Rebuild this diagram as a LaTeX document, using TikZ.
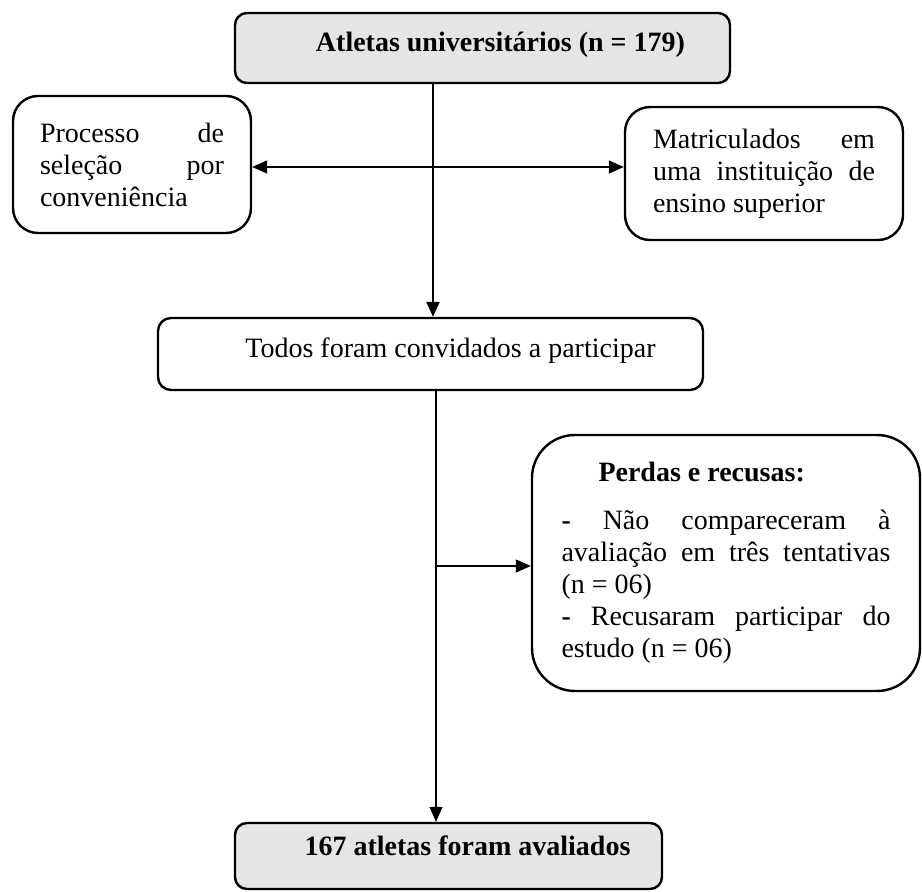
\documentclass[tikz,border=0pt]{standalone}
\usepackage{fontspec}
\setmainfont{Liberation Serif}
\usetikzlibrary{arrows.meta}
\hyphenpenalty=10000
\exhyphenpenalty=10000
\tikzset{
  txt/.style={font={\fontsize{28pt}{32pt}\selectfont}},
  box/.style={txt, draw=black, line width=2.4pt, rectangle, inner sep=3pt},
  graybox/.style={box, fill=gray!20, rounded corners=12pt},
  whitebox/.style={box, fill=white},
  oneline/.style={text height=20pt, text depth=6pt},
  thickline/.style={line width=2.4pt},
  thinline/.style={line width=1.3pt},
  arr/.style={-{Triangle[length=15pt,width=13pt]}},
}
\begin{document}
\begin{tikzpicture}[x=1pt,y=-1pt]
\useasboundingbox (0,0) rectangle (922,892);
% boxes
\node[graybox, oneline, minimum width=495pt, minimum height=70pt] (top) at (482.5,48)
  {\raisebox{4pt}{\hspace*{36pt}\textbf{Atletas universitários (n = 179)}}};
\node[whitebox, rounded corners=25pt, minimum width=238pt, minimum height=137pt,
      text width=184pt, align=justify] (left) at (132,164.5)
  {Processo de seleção por conveniência};
\node[whitebox, rounded corners=25pt, minimum width=278pt, minimum height=133pt,
      text width=222pt, align=justify] (right) at (764,173.5)
  {Matriculados em uma instituição de ensino superior};
\node[whitebox, oneline, rounded corners=13pt, minimum width=545pt, minimum height=72pt] (mid) at (430.5,354)
  {\raisebox{4pt}{\hspace*{40pt}Todos foram convidados a participar}};
\node[whitebox, rounded corners=43pt, minimum width=388pt, minimum height=256pt,
      text width=329pt, align=justify] (perdas) at (726,563)
  {\hspace*{37pt}\textbf{Perdas e recusas:}\par\vspace{16pt}
   \textbf{-} Não compareceram à avaliação em três tentativas (n~=~06)\par
   \textbf{-} Recusaram participar do estudo (n~=~06)};
\node[graybox, oneline, minimum width=427pt, minimum height=66pt] (bot) at (448.5,856)
  {\raisebox{8pt}{\hspace*{38pt}\textbf{167 atletas foram avaliados}}};
% connector junctions
\coordinate (v1) at (433,167);
\coordinate (v2) at (436,566);
% connectors
\draw[thickline, arr] (top.south -| v1) -- (mid.north -| v1);
\draw[thinline, arr] (v1) -- (left.east |- v1);
\draw[thinline, arr] (v1) -- (right.west |- v1);
\draw[thinline, arr] (mid.south -| v2) -- (bot.north -| v2);
\draw[thinline, arr] (v2) -- (perdas.west |- v2);
\end{tikzpicture}
\end{document}
